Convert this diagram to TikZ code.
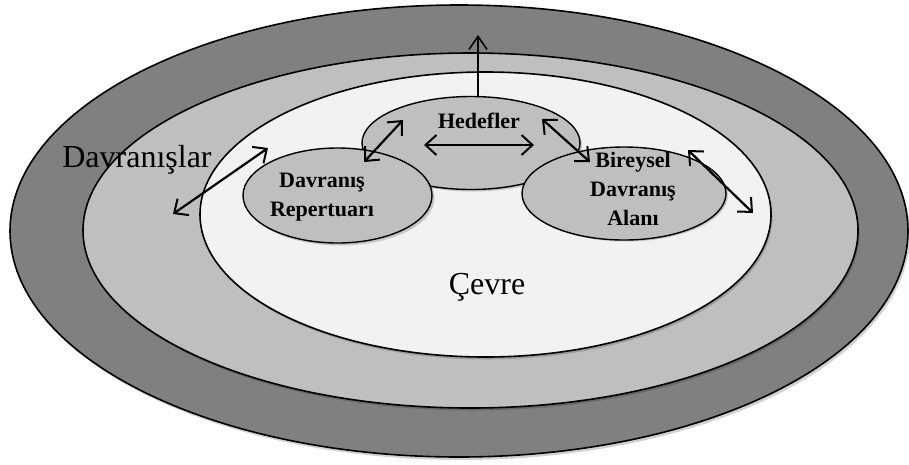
\documentclass[tikz,border=0pt]{standalone}
\usepackage{fontspec}
\setmainfont{Liberation Serif}
\usetikzlibrary{shapes.geometric,arrows.meta}
\definecolor{outerg}{gray}{0.50}
\definecolor{midg}{gray}{0.75}
\definecolor{innerg}{gray}{0.95}
\definecolor{smallg}{gray}{0.75}
\tikzset{
  ring/.style={ellipse, draw=black, line width=1.6pt, inner sep=0pt},
  sm/.style={ellipse, draw=black, line width=1.4pt, fill=smallg, inner sep=0pt},
  shad/.style={ellipse, fill=black, opacity=0.18, inner sep=0pt, draw=none},
  lbl/.style={font=\fontsize{22}{29}\selectfont\bfseries, align=center},
  big/.style={font=\fontsize{32}{36}\selectfont},
  dbl/.style={line width=2.2pt, {Straight Barb[length=11pt,width=20pt,line width=2pt]}-{Straight Barb[length=11pt,width=20pt,line width=2pt]}},
  upar/.style={line width=1.6pt, -{Straight Barb[length=13pt,width=18pt,line width=1.6pt]}}
}
\begin{document}
\begin{tikzpicture}[x=1pt,y=-1pt]
\useasboundingbox (0,0) rectangle (909,464);
\fill[white] (0,0) rectangle (909,464);
% rings
\node[shad, minimum width=898pt, minimum height=452pt] at (461,234) {};
\node[ring, fill=outerg, minimum width=898pt, minimum height=452pt] (outer) at (459,231) {};
\node[shad, minimum width=775pt, minimum height=355pt] at (472,233) {};
\node[ring, fill=midg, minimum width=775pt, minimum height=355pt] (middle) at (470.5,230.5) {};
\node[shad, minimum width=571pt, minimum height=285pt] at (487,217) {};
\node[ring, fill=innerg, minimum width=571pt, minimum height=285pt] (inner) at (485.5,214.5) {};
% small ellipses
\node[shad, minimum width=218pt, minimum height=93pt] at (473,145) {};
\node[sm, minimum width=218pt, minimum height=93pt] (hed) at (471,143) {};
\node[shad, minimum width=189pt, minimum height=95pt] at (340,198) {};
\node[sm, minimum width=189pt, minimum height=95pt] (rep) at (337.5,195.5) {};
\node[shad, minimum width=204pt, minimum height=93pt] at (626,195) {};
\node[sm, minimum width=204pt, minimum height=93pt] (bir) at (624,193.5) {};
% texts
\node[lbl] (thed) at (479,121) {Hedefler};
\node[lbl] (trep) at (322,197) {Davranış\\Repertuarı};
\node[lbl] (tbir) at (633,189) {Bireysel\\Davranış\\Alanı};
\node[big] (tdav) at (137,160) {Davranışlar};
\node[big] (tcev) at (487,287) {Çevre};
% arrow end points
\coordinate (upS) at (478,97);
\coordinate (upE) at (478,35);
\coordinate (hL) at (424,145);
\coordinate (hR) at (534,145);
\coordinate (lA) at (364,162);
\coordinate (lB) at (403,120);
\coordinate (rA) at (542,119);
\coordinate (rB) at (590,162);
\coordinate (bA) at (688,150);
\coordinate (bB) at (753,213);
\coordinate (oA) at (173,214);
\coordinate (oB) at (268,148);
% arrows
\draw[upar] (upS) -- (upE);
\draw[dbl] (hL) -- (hR);
\draw[dbl] (lA) -- (lB);
\draw[dbl] (rA) -- (rB);
\draw[dbl] (bA) -- (bB);
\draw[dbl] (oA) -- (oB);
\end{tikzpicture}
\end{document}
